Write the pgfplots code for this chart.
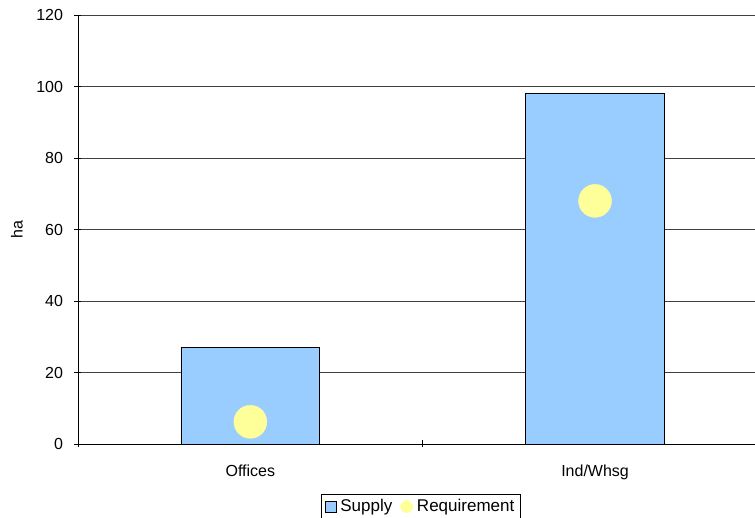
\documentclass[border=0pt]{standalone}
\usepackage{pgfplots}
\pgfplotsset{compat=1.18}
\usepackage{fontspec}
\setmainfont{Liberation Sans}
\definecolor{barblue}{HTML}{99CCFF}
\definecolor{reqyellow}{HTML}{FFFF99}
\begin{document}
\fontsize{16}{19}\selectfont
\begin{tikzpicture}
\begin{axis}[
  scale only axis,
  width=677pt, height=429pt,
  xmin=-0.5, xmax=1.464,
  ymin=0, ymax=120,
  ytick={0,20,...,120},
  xtick={-0.5,0.5},
  xticklabels={},
  extra x ticks={0,1},
  extra x tick labels={Offices,Ind/Whsg},
  extra x tick style={major tick length=0pt, xticklabel style={yshift=-15pt}},
  tick style={black, line width=0.6pt},
  major tick length=7pt,
  tick align=outside,
  axis x line=bottom, axis y line=left,
  axis line style={-, black, line width=0.8pt},
  ymajorgrids,
  grid style={black!75, line width=0.6pt},
  ylabel={ha},
  ylabel style={at={(axis description cs:-0.0901,0.5)}, anchor=center},
  /pgf/number format/assume math mode=true,
  tick label style={font=\fontsize{16}{19}\selectfont},
  yticklabel style={xshift=-6pt},
  legend style={at={(0.506,-0.1166)}, anchor=north, legend columns=2, draw=black, line width=0.6pt,
    inner xsep=4pt, inner ysep=4pt,
    nodes={inner xsep=2pt, inner ysep=1pt},
    font=\fontsize{17}{20}\selectfont,
    /tikz/every odd column/.append style={column sep=2pt},
    /tikz/every even column/.append style={column sep=6pt}},
  legend cell align=left,
  clip=false,
]
\addplot[ybar, bar width=0.403, fill=barblue, draw=black, line width=0.7pt,
  legend image code/.code={\draw[fill=barblue, draw=black, line width=0.6pt] (0pt,-5.5pt) rectangle (11pt,5.5pt);}] coordinates {(0,27.1) (1,98.2)};
\addlegendentry{Supply}
\addplot[only marks, color=reqyellow, mark=*, mark size=16.5pt, mark options={fill=reqyellow, draw=reqyellow},
  legend image code/.code={\fill[reqyellow] (6pt,0pt) circle (6pt);}] coordinates {(0,6.2) (1,68.0)};
\addlegendentry{Requirement}
\coordinate (sw) at (rel axis cs:0,0);
\coordinate (ne) at (rel axis cs:1,1);
\end{axis}
\pgfresetboundingbox
\path ([xshift=-78pt,yshift=-74pt]sw) rectangle ([yshift=15pt]ne);
\end{tikzpicture}
\end{document}
